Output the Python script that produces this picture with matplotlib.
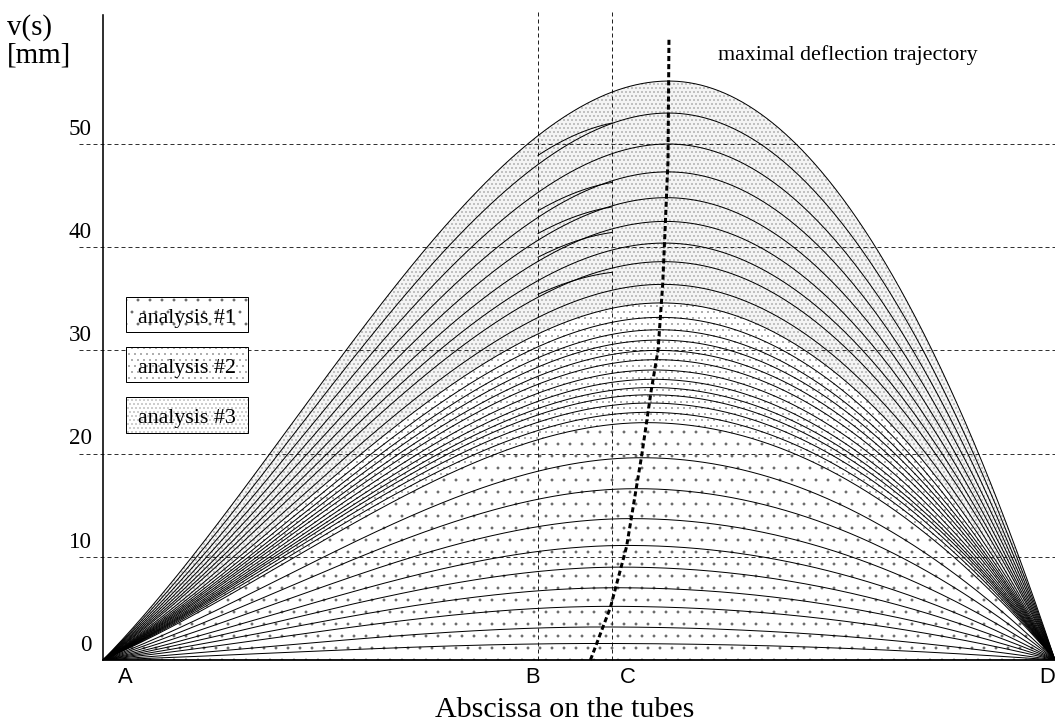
import numpy as np
import matplotlib.pyplot as plt
from matplotlib.patches import Rectangle

plt.rcParams['hatch.linewidth']=0.35

# peak deflection of every curve [mm], read where it meets the trajectory
peaks_low=[1.6,3.2,5.2,7.0,9.0,11.1,13.7,16.6,19.6]
peaks_mid=[23.0,24.0,24.9,25.7,26.4,27.2,28.1,29.1,30.0,31.0,32.0,33.2]
peaks_high=[34.6,36.4,38.6,40.4,42.5,44.8,47.3,50.0,53.0,56.1]
# short second branches between B and C
branch_peaks=[52.3,46.5,44.1,41.6,37.7]

# maximal deflection trajectory: abscissa (A=0, D=1) and v [mm]
traj_s=[0.512,0.533,0.550,0.566,0.576,0.583,0.588,0.5935,0.5945]
traj_v=[0.0,5.1,11.0,19.9,26.2,30.0,36.5,48.4,60.1]

yticks=[0,10,20,30,40,50]
grid_v=[10,20,30,40,50]
sec_s={'B':0.457,'C':0.535}
pt_names=['A','B','C','D']
pt_s=[0.023,0.451,0.551,1.0]
legend_names=['analysis #1','analysis #2','analysis #3']
hatches=['.','..','...']

SERIF='Liberation Serif'
SANS='Liberation Sans'
W,H=1055,727

def shape(s,sp):
    t=np.where(s<=sp,s/sp,(1-s)/(1-sp))
    return np.where(s<=sp,t+t**2-t**3,2*t-t**2)

def curve(s,peak):
    sp=np.interp(peak,traj_v,traj_s)
    return peak*shape(s,sp)

fig=plt.figure(figsize=(W/72,H/72),dpi=72)
ax=fig.add_axes([103/W,1-660/H,952/W,645/H])
ax.set_xlim(0,1)
ax.set_ylim(0,62.5)
ax.spines['top'].set_visible(False)
ax.spines['right'].set_visible(False)
ax.spines['left'].set_linewidth(1.6)
ax.spines['bottom'].set_linewidth(1.8)
ax.set_xticks([])
ax.set_yticks([])

s=np.linspace(0,1,800)
allpeaks=peaks_low+peaks_mid+peaks_high

# shaded bands of the three analyses
b1=curve(s,peaks_mid[0])
b2=curve(s,peaks_high[0])
top=curve(s,peaks_high[-1])
ax.fill_between(s,0,b1,facecolor='white',edgecolor='#666666',hatch=hatches[0],lw=0)
ax.fill_between(s,b1,b2,facecolor='white',edgecolor='#666666',hatch=hatches[1],lw=0)
ax.fill_between(s,b2,top,facecolor='#f4f4f4',edgecolor='#555555',hatch=hatches[2],lw=0)

for gv in grid_v:
    ax.plot([-0.025,1],[gv,gv],color='#333333',lw=1,dashes=(4,3),clip_on=False,zorder=2)
for k in sec_s:
    ax.plot([sec_s[k]]*2,[0,63.1],color='#222222',lw=1,dashes=(4,3),clip_on=False,zorder=2)

for p in allpeaks:
    ax.plot(s,curve(s,p),color='black',lw=1,zorder=3)

sb=np.linspace(sec_s['B'],sec_s['C'],60)
for p in branch_peaks:
    sp=np.interp(p,traj_v,traj_s)-0.03
    ax.plot(sb,p*shape(sb,sp),color='black',lw=1,zorder=3)

ax.plot(traj_s,traj_v,color='black',lw=3,dashes=(1.7,1.0),clip_on=False,zorder=4)

for v in yticks:
    ax.text(-0.012,v+0.9,str(v),ha='right',va='baseline',fontsize=23,family=SERIF,clip_on=False)
for n,x in zip(pt_names,pt_s):
    ax.text(x,-0.7,n,ha='center' if n!='D' else 'right',va='top',fontsize=22,family=SANS,clip_on=False)

fig.text(565/W,1-717/H,'Abscissa on the tubes',ha='center',va='baseline',fontsize=30,family=SERIF)
fig.text(718/W,1-60/H,'maximal deflection trajectory',ha='left',va='baseline',fontsize=22,family=SERIF)
fig.text(7/W,1-14/H,'v(s)\n[mm]',ha='left',va='top',fontsize=29,family=SERIF,linespacing=1.1)

box_top=[296.7,346.7,397.3]
for name,h,yt in zip(legend_names,hatches,box_top):
    xy=(125.7/W,1-(yt+35.6)/H)
    fig.patches.append(Rectangle(xy,122.6/W,35.6/H,transform=fig.transFigure,
                                 facecolor='white',edgecolor='#666666',lw=0,hatch=h))
    fig.patches.append(Rectangle(xy,122.6/W,35.6/H,transform=fig.transFigure,
                                 fill=False,edgecolor='black',lw=1))
    fig.text(187/W,1-(yt+26)/H,name,ha='center',va='baseline',fontsize=22,family=SERIF)

fig.savefig('out.png',dpi=72)
